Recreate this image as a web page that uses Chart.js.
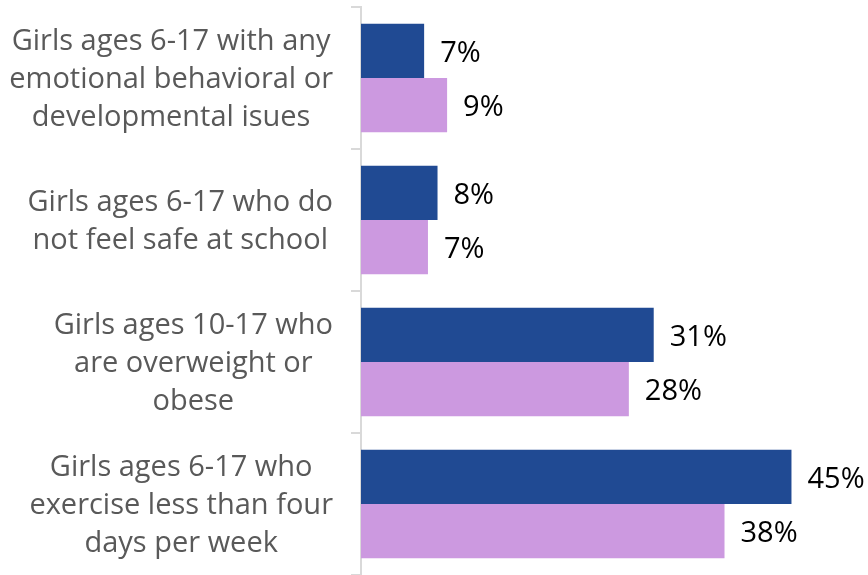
<!DOCTYPE html>
<html>
<head>
<meta charset="utf-8">
<script src="https://cdn.jsdelivr.net/npm/chart.js@4"></script>
<style>
  html, body { margin: 0; padding: 0; background: #fff; }
  canvas { display: block; }
</style>
</head>
<body>
<canvas id="chart" width="868" height="575"></canvas>
<script>
// Category labels (one array of lines per category)
const categories = [
    ['Girls ages 6-17 with any', 'emotional behavioral or', 'developmental isues'],
    ['Girls ages 6-17 who do', 'not feel safe at school'],
    ['Girls ages 10-17 who', 'are overweight or', 'obese'],
    ['Girls ages 6-17 who', 'exercise less than four', 'days per week']
];

// Series values (percent)
const seriesA = [6.6, 8, 30.6, 45];
const seriesB = [9, 7, 28, 38];

const colorA = '#204a93';
const colorB = '#cc99e0';
const labelFont = '29px "Open Sans", sans-serif';
const valueFont = '29px "Open Sans", sans-serif';

/**
 * Draws the category labels: each block centred on its widest line,
 * with the widest line right-aligned next to the axis.
 */
const categoryLabels = {
    id: 'categoryLabels',
    afterDraw(chart) {
        const ctx = chart.ctx;
        const yScale = chart.scales.y;
        const right = yScale.right - 28;
        const lineHeight = 38;
        ctx.save();
        ctx.font = labelFont;
        ctx.fillStyle = '#595959';
        ctx.textAlign = 'center';
        ctx.textBaseline = 'middle';
        categories.forEach((lines, i) => {
            const y = yScale.getPixelForTick(i) + 2;
            const maxW = Math.max(...lines.map(l => ctx.measureText(l).width));
            const cx = right - maxW / 2;
            const top = y - (lines.length - 1) * lineHeight / 2;
            lines.forEach((line, j) => ctx.fillText(line, cx, top + j * lineHeight));
        });
        ctx.restore();
    }
};

/**
 * Draws the value labels to the right of each bar.
 */
const valueLabels = {
    id: 'valueLabels',
    afterDatasetsDraw(chart) {
        const ctx = chart.ctx;
        ctx.save();
        ctx.font = valueFont;
        ctx.fillStyle = '#000';
        ctx.textAlign = 'left';
        ctx.textBaseline = 'middle';
        chart.data.datasets.forEach((ds, di) => {
            const meta = chart.getDatasetMeta(di);
            meta.data.forEach((bar, i) => {
                ctx.fillText(Math.round(ds.data[i]) + '%', bar.x + 16, bar.y + 3);
            });
        });
        ctx.restore();
    }
};

const ctx = document.getElementById('chart').getContext('2d');
const chart = new Chart(ctx, {
    type: 'bar',
    data: {
        labels: categories,
        datasets: [
            { data: seriesA, backgroundColor: colorA },
            { data: seriesB, backgroundColor: colorB }
        ]
    },
    options: {
        indexAxis: 'y',
        responsive: false,
        animation: false,
        layout: { padding: { top: 7, bottom: 0, left: 0, right: 0 } },
        datasets: {
            bar: { categoryPercentage: 0.765, barPercentage: 1 }
        },
        plugins: {
            legend: { display: false },
            tooltip: { enabled: false }
        },
        scales: {
            x: {
                display: false,
                min: 0,
                max: 53
            },
            y: {
                ticks: { display: false },
                grid: {
                    offset: true,
                    drawOnChartArea: false,
                    drawTicks: true,
                    tickLength: 10,
                    color: '#d9d9d9',
                    lineWidth: 2
                },
                border: { color: '#d9d9d9', width: 2 },
                afterFit(scale) { scale.width = 361; }
            }
        }
    },
    plugins: [categoryLabels, valueLabels]
});
</script>
</body>
</html>
